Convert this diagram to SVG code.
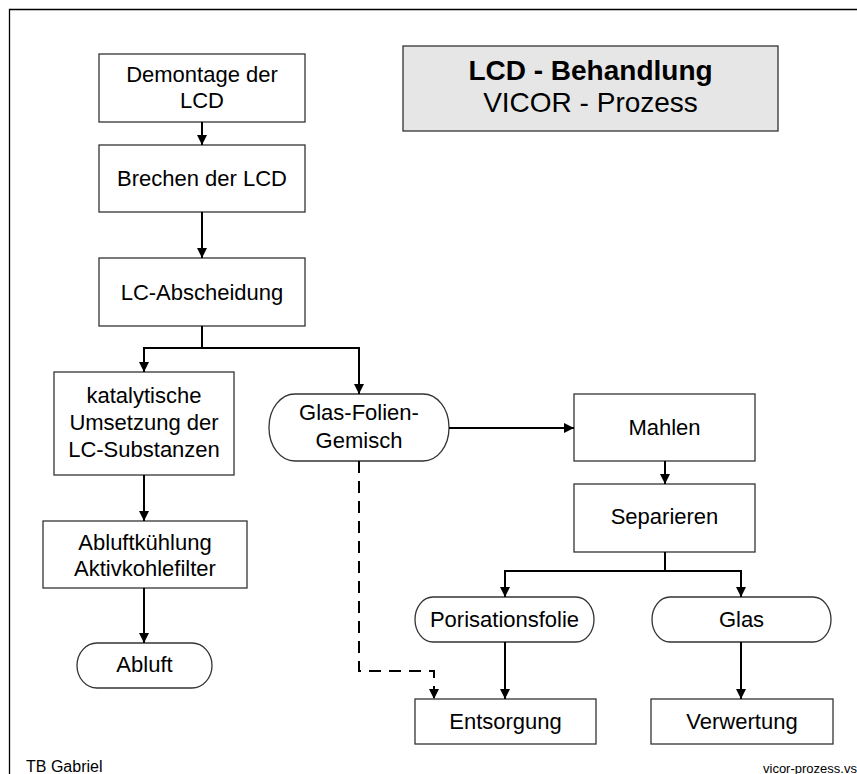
<svg xmlns="http://www.w3.org/2000/svg" width="857" height="774" viewBox="0 0 857 774">
  <style>
    .box { fill: #ffffff; stroke: #333333; stroke-width: 1.3; }
    .title { fill: #e6e6e6; stroke: #333333; stroke-width: 1.3; }
    .t { font-family: "Liberation Sans", Arial, sans-serif; font-size: 22px; fill: #000000; text-anchor: middle; }
    .conn { fill: none; stroke: #000000; stroke-width: 2; }
    .dash { fill: none; stroke: #000000; stroke-width: 2; stroke-dasharray: 12 8; }
    .small { font-family: "Liberation Sans", Arial, sans-serif; fill: #000000; }
  </style>
  <defs>
    <marker id="arr" markerUnits="userSpaceOnUse" markerWidth="10" markerHeight="10" refX="10" refY="5" orient="auto">
      <path d="M0,0 L10,5 L0,10 Z" fill="#000000"/>
    </marker>
  </defs>
  <rect width="857" height="774" fill="#ffffff"/>
  <path d="M9.5,774 L9.5,9.5 L857,9.5" fill="none" stroke="#000000" stroke-width="1.3"/>

  <g id="title">
    <rect class="title" x="403" y="46" width="375" height="85"/>
    <text class="t" x="590.5" y="80" style="font-size:28px;font-weight:bold">LCD - Behandlung</text>
    <text class="t" x="590.5" y="112" style="font-size:28px">VICOR - Prozess</text>
  </g>

  <g id="demontage">
    <rect class="box" x="99" y="54" width="206" height="68"/>
    <text class="t" x="202" y="82">Demontage der</text>
    <text class="t" x="202" y="108">LCD</text>
  </g>
  <g id="brechen">
    <rect class="box" x="99" y="145" width="206" height="67"/>
    <text class="t" x="202" y="186">Brechen der LCD</text>
  </g>
  <g id="lc-abscheidung">
    <rect class="box" x="99" y="258" width="206" height="68"/>
    <text class="t" x="202" y="300">LC-Abscheidung</text>
  </g>
  <g id="katalytische">
    <rect class="box" x="54" y="372" width="180" height="103"/>
    <text class="t" x="144" y="403">katalytische</text>
    <text class="t" x="144" y="430">Umsetzung der</text>
    <text class="t" x="144" y="457">LC-Substanzen</text>
  </g>
  <g id="glas-folien-gemisch">
    <rect class="box" x="269" y="394" width="180" height="67" rx="26" ry="33"/>
    <text class="t" x="359" y="420">Glas-Folien-</text>
    <text class="t" x="359" y="448">Gemisch</text>
  </g>
  <g id="mahlen">
    <rect class="box" x="574" y="394" width="181" height="67"/>
    <text class="t" x="664.5" y="435">Mahlen</text>
  </g>
  <g id="separieren">
    <rect class="box" x="574" y="484" width="181" height="68"/>
    <text class="t" x="664.5" y="524">Separieren</text>
  </g>
  <g id="abluftkuehlung">
    <rect class="box" x="43" y="521" width="204" height="67"/>
    <text class="t" x="145" y="550">Abluftkühlung</text>
    <text class="t" x="145" y="576">Aktivkohlefilter</text>
  </g>
  <g id="abluft">
    <rect class="box" x="77" y="643" width="135" height="45" rx="20" ry="22.5"/>
    <text class="t" x="144.5" y="672">Abluft</text>
  </g>
  <g id="porisationsfolie">
    <rect class="box" x="415" y="597" width="179" height="45" rx="18" ry="22.5"/>
    <text class="t" x="504.5" y="627">Porisationsfolie</text>
  </g>
  <g id="glas">
    <rect class="box" x="652" y="597" width="179" height="45" rx="18" ry="22.5"/>
    <text class="t" x="741.5" y="627">Glas</text>
  </g>
  <g id="entsorgung">
    <rect class="box" x="415" y="699" width="181" height="45"/>
    <text class="t" x="505.5" y="729">Entsorgung</text>
  </g>
  <g id="verwertung">
    <rect class="box" x="651" y="699" width="182" height="45"/>
    <text class="t" x="742" y="729">Verwertung</text>
  </g>

  <g id="connectors">
    <path class="conn" d="M202,122 L202,145" marker-end="url(#arr)"/>
    <path class="conn" d="M202,212 L202,258" marker-end="url(#arr)"/>
    <path class="conn" d="M202,326 L202,348"/>
    <path class="conn" d="M202,348 L144,348 L144,372" marker-end="url(#arr)"/>
    <path class="conn" d="M202,348 L359,348 L359,394" marker-end="url(#arr)"/>
    <path class="conn" d="M449,428 L574,428" marker-end="url(#arr)"/>
    <path class="conn" d="M665,461 L665,484" marker-end="url(#arr)"/>
    <path class="conn" d="M665,552 L665,571"/>
    <path class="conn" d="M665,571 L505,571 L505,597" marker-end="url(#arr)"/>
    <path class="conn" d="M665,571 L741,571 L741,597" marker-end="url(#arr)"/>
    <path class="conn" d="M505,642 L505,699" marker-end="url(#arr)"/>
    <path class="conn" d="M741,642 L741,699" marker-end="url(#arr)"/>
    <path class="conn" d="M144,475 L144,521" marker-end="url(#arr)"/>
    <path class="conn" d="M144,588 L144,643" marker-end="url(#arr)"/>
    <path class="dash" d="M359,461 L359,671 L434,671 L434,699" marker-end="url(#arr)"/>
  </g>

  <text class="small" x="26" y="772" style="font-size:16px">TB Gabriel</text>
  <text class="small" x="763" y="773" style="font-size:13px">vicor-prozess.vsd</text>
</svg>
